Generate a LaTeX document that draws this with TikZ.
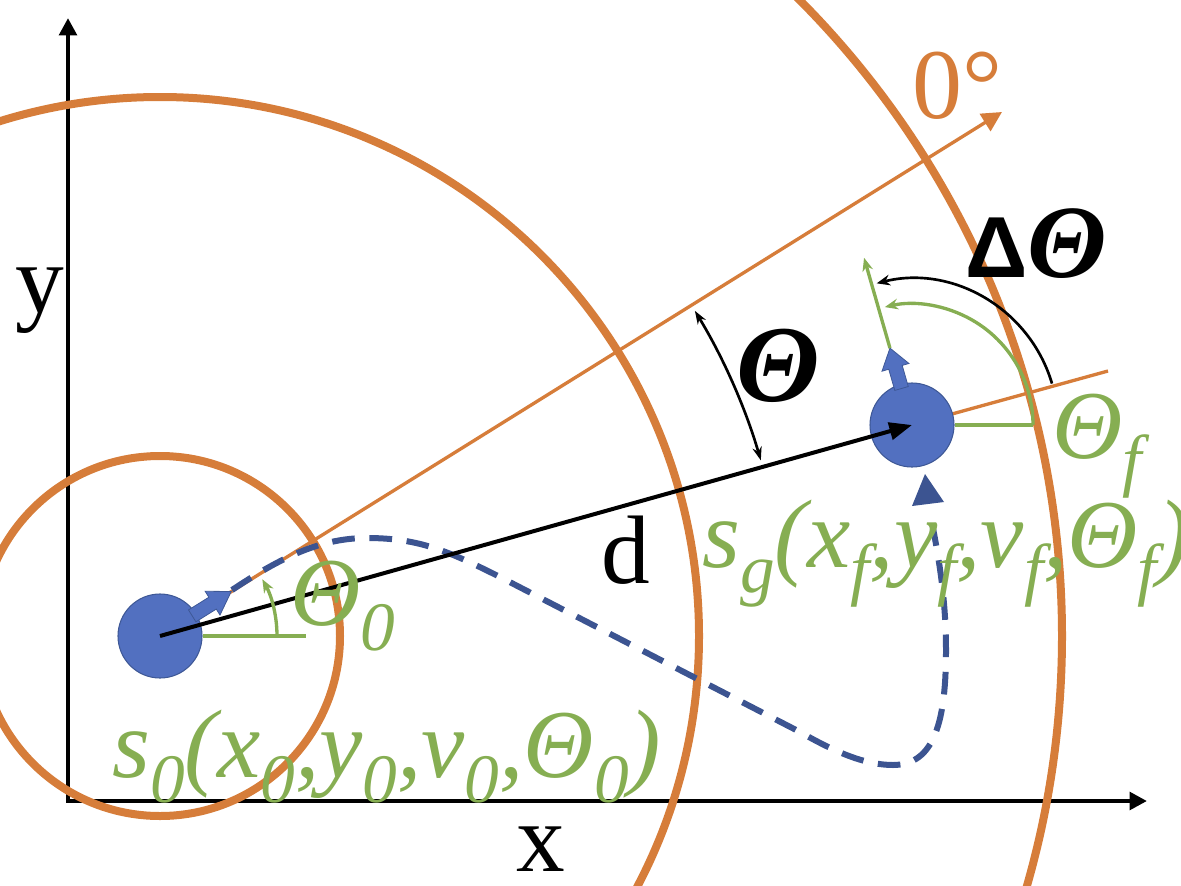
\documentclass[tikz,border=0pt]{standalone}
\usepackage{fontspec}
\setmainfont{Liberation Serif}[ItalicFont={Liberation Serif Italic},BoldFont={Liberation Serif Bold},BoldItalicFont={Liberation Serif Bold Italic}]
\newfontfamily\lsans{Liberation Sans}
\usetikzlibrary{arrows.meta}
\definecolor{orng}{RGB}{214,125,58}
\definecolor{grn}{RGB}{134,174,82}
\definecolor{rfill}{RGB}{82,112,192}
\definecolor{rline}{RGB}{62,88,150}
\definecolor{pathblue}{RGB}{60,84,145}
\newcommand\gsb[1]{\raisebox{-0.26em}{\fontsize{52}{56}\selectfont #1}}
\begin{document}
\begin{tikzpicture}[x=0.75pt,y=-0.75pt,
  orbit/.style={draw=orng,line width=6pt},
  oline/.style={draw=orng,line width=2.5pt},
  robot/.style={circle,fill=rfill,draw=rline,line width=0.8pt,minimum size=63pt,inner sep=0pt},
  axisline/.style={line width=3.3pt,line join=miter},
  gline/.style={draw=grn,line width=2.5pt},
  traj/.style={draw=pathblue,line width=4.5pt,dash pattern=on 17pt off 11pt},
  blk/.style={draw=black,line width=2pt},
  lbl/.style={inner sep=0pt,font=\fontsize{73}{80}\selectfont},
  glbl/.style={inner sep=0pt,text=grn,font=\fontsize{73}{80}\selectfont\itshape},
  harrow/.style={fill=rfill,draw=rline,line width=0.6pt},
]
\useasboundingbox (0,0) rectangle (1181,885);

% axes
\coordinate (O) at (68,801);
\coordinate (Ytip) at (68,18);
\coordinate (Xtip) at (1147,801);
\draw[axisline,{Triangle[length=13pt,width=13pt]}-{Triangle[length=13pt,width=13pt]}] (Ytip) -- (O) -- (Xtip);

% centres
\coordinate (Sc) at (160,636);
\coordinate (Gc) at (912,425);

% orbits
\draw[orbit] (Sc) circle[radius=180];
\draw[orbit] (Sc) circle[radius=539];
\draw[orbit] (Sc) circle[radius=902];

% orange reference lines
\coordinate (Zero) at (1002,112);
\draw[oline,-{Triangle[length=15pt,width=15pt]}] (Sc) -- (Zero);
\coordinate (Gref) at (1108,371);
\draw[oline] (Gc) -- (Gref);

% trajectory
\draw[traj] (232,590) .. controls (280,558) and (320,538) .. (367,538)
  .. controls (420,538) and (450,552) .. (500,577)
  -- (800,732)
  .. controls (835,752) and (865,765) .. (893,765)
  .. controls (935,765) and (946,720) .. (946,650)
  .. controls (946,590) and (936,545) .. (930,512);
\coordinate (T1) at (925,474);
\coordinate (T2) at (912,506);
\coordinate (T3) at (944,502);
\fill[pathblue] (T1) -- (T2) -- (T3) -- cycle;

% robots
\node[robot] (S) at (Sc) {};
\node[robot] (G) at (Gc) {};

% heading arrows
\begin{scope}[shift={(Sc)},rotate=32]
  \draw[harrow] (38,-7) -- (62,-7) -- (62,-14) -- (84,0) -- (62,14) -- (62,7) -- (38,7) -- cycle;
\end{scope}
\begin{scope}[shift={(Gc)},rotate=106]
  \coordinate (Gh0) at (80,0);
  \coordinate (Gh1) at (174,0);
  \draw[harrow] (38,-7) -- (60,-7) -- (60,-14) -- (80,0) -- (60,14) -- (60,7) -- (38,7) -- cycle;
\end{scope}
\draw[gline,-{Stealth[length=10pt,width=8pt]}] (Gh0) -- (Gh1);

% d line
\draw[draw=black,line width=3pt,-{Triangle[length=17pt,width=13pt]}] (S.center) -- (G.center);

% start angle
\draw[gline] (S.east) -- ++(103,0);
\draw[gline,-{Stealth[length=10pt,width=8pt]}] (Sc) ++(0:117) arc[start angle=0,end angle=-29,radius=117];

% goal angles
\draw[gline] (G.east) -- (1033,425);
\draw[gline,-{Stealth[length=10pt,width=8pt]}] (Gc) ++(0:121) arc[start angle=0,end angle=-103,radius=121];
\draw[blk,-{Stealth[length=10pt,width=8pt]}] (Gc) ++(-16.5:146) arc[start angle=-16.5,end angle=-104,radius=146];

% theta arc
\draw[blk,{Stealth[length=10pt,width=7pt]}-{Stealth[length=10pt,width=7pt]}] (Sc) ++(-16.3:626) arc[start angle=-16.3,end angle=-31.3,radius=626];

% labels
\node[lbl,anchor=base] (ylab) at (40,312) {y};
\node[lbl,anchor=base] (xlab) at (541,871) {x};
\node[lbl,anchor=base] (dlab) at (626,583) {d};
\node[lbl,anchor=base west,text=orng,font=\fontsize{75}{80}\selectfont] (zlab) at (912,118) {0°};
\node[lbl,anchor=base west,font=\fontsize{82}{88}\selectfont\bfseries\itshape] (thlab) at (736,401) {Θ};
\node[lbl,anchor=base west] (dthlab) at (965,277) {{\lsans\bfseries\fontsize{65}{70}\selectfont Δ}{\fontsize{78}{84}\selectfont\bfseries\itshape Θ}};
\node[glbl,anchor=base west] (th0) at (290,625) {Θ\gsb{0}};
\node[glbl,anchor=base west] (thf) at (1052,458) {Θ\gsb{f}};
\node[glbl,anchor=base west] (s0) at (112,777) {s\gsb{0}(x\gsb{0},y\gsb{0},v\gsb{0},Θ\gsb{0})};
\node[glbl,anchor=base west] (sg) at (702,567) {s\gsb{g}(x\gsb{f},y\gsb{f},v\gsb{f},Θ\gsb{f})};
\end{tikzpicture}
\end{document}
